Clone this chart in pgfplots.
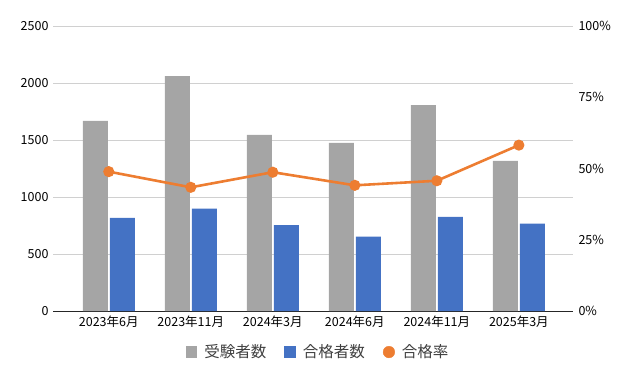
\documentclass[border=0pt]{standalone}
\usepackage{pgfplots}
\pgfplotsset{compat=1.18}
\usepackage{fontspec}
\setmainfont{Noto Sans CJK JP}
\definecolor{cgray}{HTML}{A5A5A5}
\definecolor{cblue}{HTML}{4472C4}
\definecolor{corange}{HTML}{ED7D31}
\definecolor{cgrid}{HTML}{D0D0D0}
\begin{document}
\begin{tikzpicture}
\path[use as bounding box] (-53pt,-70pt) rectangle (578pt,311pt);
\begin{axis}[
  at={(0pt,0pt)}, anchor=south west,
  scale only axis, width=520pt, height=285pt,
  xmin=-0.68, xmax=5.66, ymin=0, ymax=2500,
  ybar=2pt, bar width=25pt,
  xtick={0,1,2,3,4,5},
  xticklabels={2023年6月,2023年11月,2024年3月,2024年6月,2024年11月,2025年3月},
  ytick={0,500,1000,1500,2000,2500},
  /pgf/number format/1000 sep={},
  /pgf/number format/assume math mode=true,
  ymajorgrids, grid style={cgrid, line width=0.8pt},
  axis x line*=bottom, axis y line*=left,
  x axis line style={black!85, line width=0.8pt},
  y axis line style={draw=none},
  major tick length=0pt,
  tick label style={font=\fontsize{12.5}{14}\selectfont},
  yticklabel style={xshift=-1pt},
  xticklabel style={yshift=-1pt},
  legend style={at={(0.51,-0.144)}, anchor=center, legend columns=-1, draw=none,
    font=\fontsize{15.5}{17}\selectfont, text=black!75,
    /tikz/every odd column/.append style={column sep=5pt},
    /tikz/every even column/.append style={column sep=16pt}},
]
\addplot[draw=none, fill=cgray, legend image code/.code={\fill[cgray] (0pt,-6pt) rectangle (11.5pt,6pt);}]
  coordinates {(0,1667) (1,2061) (2,1544) (3,1474) (4,1807) (5,1316)};
\addlegendentry{受験者数}
\addplot[draw=none, fill=cblue, legend image code/.code={\fill[cblue] (0pt,-6pt) rectangle (11.5pt,6pt);}]
  coordinates {(0,818) (1,897) (2,754) (3,652) (4,825) (5,766)};
\addlegendentry{合格者数}
\addlegendimage{legend image code/.code={\fill[corange] (5.8pt,0pt) circle (5.8pt);}}
\addlegendentry{合格率}
\end{axis}
\begin{axis}[
  at={(0pt,0pt)}, anchor=south west,
  scale only axis, width=520pt, height=285pt,
  xmin=-0.68, xmax=5.66, ymin=0, ymax=1,
  axis x line=none, axis y line*=right,
  y axis line style={draw=none},
  major tick length=0pt,
  ytick={0,0.25,0.5,0.75,1},
  yticklabels={0\%,25\%,50\%,75\%,100\%},
  tick label style={font=\fontsize{12.5}{14}\selectfont},
  yticklabel style={xshift=2pt},
]
\addplot[corange, line width=2.6pt, mark=*, mark size=4.2pt, mark options={solid, fill=corange, draw=corange}]
  coordinates {(0,0.489) (1,0.434) (2,0.487) (3,0.441) (4,0.457) (5,0.582)};
\end{axis}
\end{tikzpicture}
\end{document}
